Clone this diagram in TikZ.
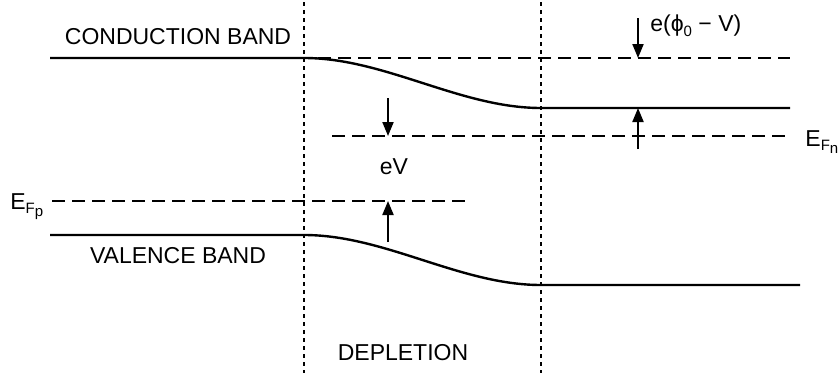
\documentclass[tikz,border=0pt]{standalone}
\usepackage{amsmath}
\usepackage{fontspec}
\setmainfont{Liberation Sans}
\usetikzlibrary{arrows.meta,positioning}
\newcommand{\lowtxt}[2]{\raisebox{-#1}{\fontsize{7.5}{8}\selectfont #2}}

\begin{document}
\begin{tikzpicture}[x=0.5pt,y=-0.5pt,
    font=\fontsize{11.5}{13}\selectfont,
    band/.style={line width=1.2pt},
    level/.style={line width=0.7pt, dash pattern=on 6.5pt off 3.5pt},
    edge/.style={line width=0.8pt, dash pattern=on 1.8pt off 2.2pt},
    arrow/.style={-{Triangle[length=7pt,width=5.5pt]}, line width=1pt},
    label/.style={inner sep=0pt}
]
\useasboundingbox (0,0) rectangle (838,375);
% depletion edges
\coordinate (lt) at (304,2);
\coordinate (lb) at (304,373);
\coordinate (rt) at (541,2);
\coordinate (rb) at (541,373);
\draw[edge] (lt) -- (lb);
\draw[edge] (rt) -- (rb);
% bands
\coordinate (cb1) at (50,58);
\coordinate (cb2) at (304,58);
\coordinate (cb3) at (541,108);
\coordinate (cb4) at (790,108);
\coordinate (vb1) at (50,235);
\coordinate (vb2) at (304,235);
\coordinate (vb3) at (541,285);
\coordinate (vb4) at (800,285);
\draw[band] (cb1) -- (cb2) .. controls (385,58) and (460,108) .. (cb3) -- (cb4);
\draw[band] (vb1) -- (vb2) .. controls (385,235) and (460,285) .. (vb3) -- (vb4);
% fermi levels
\coordinate (c0a) at (318,58);
\coordinate (c0b) at (790,58);
\coordinate (fna) at (332,136);
\coordinate (fnb) at (790,136);
\coordinate (fpa) at (52,201);
\coordinate (fpb) at (468,201);
\draw[level] (c0a) -- (c0b);
\draw[level] (fna) -- (fnb);
\draw[level] (fpa) -- (fpb);
% labels
\node[label] (cond) at (178,37) {CONDUCTION BAND};
\node[label] (val) at (178,256) {VALENCE BAND};
\node[label] (depl) at (403,353) {DEPLETION};
\node[label] (ev) at (394,167) {eV};
\node[label, anchor=base west] (efn) at (805,146) {E\lowtxt{2pt}{F}\lowtxt{3.5pt}{n}};
\node[label, anchor=base west] (efp) at (10,209) {E\lowtxt{2pt}{F}\lowtxt{3.5pt}{p}};
\node[label, anchor=base west] (phi) at (650,32) {e(ϕ\lowtxt{2pt}{0} − V)};
% arrows
\coordinate (a1) at (388,98);
\coordinate (a1e) at (388,136);
\coordinate (a2) at (388,242);
\coordinate (a2e) at (388,201);
\coordinate (a3) at (638,149);
\coordinate (a3e) at (638,108);
\coordinate (a4) at (638,18);
\coordinate (a4e) at (638,58);
\draw[arrow] (a1) -- (a1e);
\draw[arrow] (a2) -- (a2e);
\draw[arrow] (a3) -- (a3e);
\draw[arrow] (a4) -- (a4e);
\end{tikzpicture}
\end{document}
